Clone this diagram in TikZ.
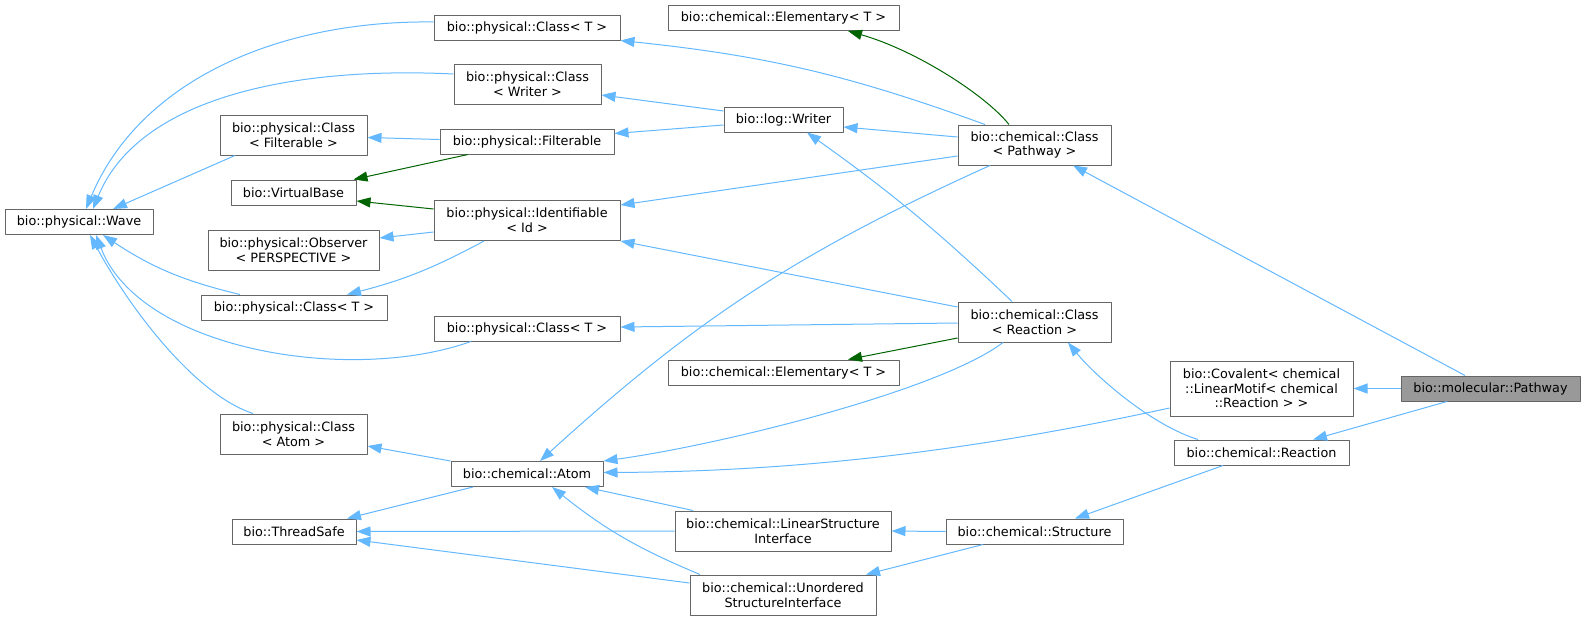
\documentclass[tikz,border=0pt]{standalone}
\usepackage{fontspec}
\setmainfont{DejaVu Sans}
\usetikzlibrary{arrows.meta, calc}

\definecolor{inhblue}{HTML}{63B8FF}
\definecolor{inhgreen}{HTML}{006400}
\definecolor{boxgray}{HTML}{666666}
\definecolor{mainfill}{HTML}{999999}

\begin{document}
\begin{tikzpicture}[x=0.75pt, y=-0.75pt, line join=round,
  cls/.style={draw=boxgray, line width=0.75pt, fill=white, inner sep=0pt,
    align=center, font=\fontsize{9.6}{11}\selectfont, minimum height=25*0.75pt},
  bw/.style={minimum width=#1*0.75pt},
  bh/.style={minimum height=#1*0.75pt},
  pub/.style={draw=inhblue, line width=0.75pt, -{Triangle[length=10.5pt,width=7.5pt]}},
  prot/.style={draw=inhgreen, line width=0.75pt, -{Triangle[length=10.5pt,width=7.5pt]}}]

\useasboundingbox (0,0) rectangle (1585,621);

% colonna sinistra
\node[cls, bw=148] (wave) at (79,222) {bio::physical::Wave};
\node[cls, bw=147, bh=40] (pcFilt) at (293.5,135) {bio::physical::Class\\< Filterable >};
\node[cls, bw=125] (vbase) at (293.5,192.5) {bio::VirtualBase};
\node[cls, bw=171, bh=40] (observer) at (293.5,250) {bio::physical::Observer\\< PERSPECTIVE >};
\node[cls, bw=186] (pcT2) at (294,307.5) {bio::physical::Class< T >};
\node[cls, bw=147, bh=40] (pcAtom) at (293.5,434) {bio::physical::Class\\< Atom >};
\node[cls, bw=124] (tsafe) at (294,531.5) {bio::ThreadSafe};

% colonna centrale
\node[cls, bw=186] (pcT1) at (527,27.5) {bio::physical::Class< T >};
\node[cls, bw=147, bh=40] (pcWriter) at (527.5,84.5) {bio::physical::Class\\< Writer >};
\node[cls, bw=174] (filt) at (527,141.5) {bio::physical::Filterable};
\node[cls, bw=186, bh=40] (ident) at (527,220.5) {bio::physical::Identifiable\\< Id >};
\node[cls, bw=186] (pcT3) at (527,328.5) {bio::physical::Class< T >};
\node[cls, bw=152] (atom) at (527,474) {bio::chemical::Atom};

\node[cls, bw=231] (elemA) at (783.5,18) {bio::chemical::Elementary< T >};
\node[cls, bw=119] (writer) at (783.5,119.5) {bio::log::Writer};
\node[cls, bw=231] (elemB) at (783.5,372.5) {bio::chemical::Elementary< T >};
\node[cls, bw=216, bh=40] (linStruct) at (783,531) {bio::chemical::LinearStructure\\Interface};
\node[cls, bw=186, bh=40] (unordStruct) at (783,595) {bio::chemical::Unordered\\StructureInterface};

% colonna destra
\node[cls, bw=153, bh=40] (chemPathway) at (1034.5,145) {bio::chemical::Class\\< Pathway >};
\node[cls, bw=153, bh=40] (chemReaction) at (1034.5,322) {bio::chemical::Class\\< Reaction >};
\node[cls, bw=177] (structure) at (1034.5,531.5) {bio::chemical::Structure};
\node[cls, bw=183, bh=55] (covalent) at (1261.5,388.5) {bio::Covalent< chemical\\::LinearMotif< chemical\\::Reaction > >};
\node[cls, bw=175] (reaction) at (1261.5,452.5) {bio::chemical::Reaction};
\node[cls, bw=179, fill=mainfill] (pathway) at (1490.5,388.5) {bio::molecular::Pathway};

% --- ereditarieta da Pathway ---
\draw[pub] ($(pathway.north)+(-25.5,0)$) -- ($(chemPathway.south)+(38.5,0)$);
\draw[pub] (pathway.west) -- (covalent.east);
\draw[pub] ($(pathway.south)+(-43.5,0)$) -- ($(reaction.north)+(51.5,0)$);

% Class< Pathway >
\draw[prot] ($(chemPathway.north)+(-25.5,0)$) .. controls +(-24,-30) and +(67,19) .. ($(elemA.south)+(64.5,0)$);
\draw[pub] ($(chemPathway.north)+(-49.5,0)$) to[bend right=7] (pcT1.south east);
\draw[pub] ($(chemPathway.west)+(0,-8)$) -- ($(writer.east)+(0,7.5)$);
\draw[pub] ($(chemPathway.west)+(0,11)$) -- ($(ident.east)+(0,-15.5)$);
\draw[pub] ($(chemPathway.south)+(-44.5,0)$) to[bend right=9] ($(atom.north)+(13,0)$);

% Writer, Filterable, Identifiable
\draw[pub] ($(writer.west)+(0,-8.5)$) -- ($(pcWriter.east)+(0,10.5)$);
\draw[pub] ($(writer.west)+(0,5.5)$) -- ($(filt.east)+(0,-8)$);
\draw[pub] ($(filt.west)+(0,-2)$) -- ($(pcFilt.east)+(0,2.5)$);
\draw[prot] ($(filt.south)+(-59,0)$) -- ($(vbase.north)+(60,0)$);
\draw[prot] ($(ident.west)+(0,-11.5)$) -- ($(vbase.east)+(0,8.5)$);
\draw[pub] ($(ident.west)+(0,11.5)$) -- ($(observer.east)+(0,-12)$);
\draw[pub] ($(ident.south)+(-43,0)$) to[bend left=7] ($(pcT2.north)+(53,0)$);

% verso Wave
\draw[pub] ($(pcT1.west)+(0,-5.5)$) .. controls +(-154,-2) and +(54,-129) .. ($(wave.north)+(7,0)$);
\draw[pub] ($(pcWriter.west)+(0,-10.5)$) .. controls +(-164,-8) and +(45,-110) .. ($(wave.north)+(14,0)$);
\draw[pub] ($(pcFilt.south)+(-58.5,0)$) -- ($(wave.north)+(34,0)$);
\draw[pub] ($(pcT2.north)+(-54,0)$) to[bend left=10] ($(wave.south)+(24,0)$);
\draw[pub] ($(pcT3.south)+(-56,0)$) .. controls +(-121,43) and +(44,115) .. ($(wave.south)+(17,0)$);
\draw[pub] ($(pcAtom.north)+(-40.5,0)$) .. controls +(-58,-19) and +(40,74) .. ($(wave.south)+(11,0)$);

% Class< Reaction >
\draw[pub] ($(chemReaction.north)+(-22.5,0)$) to[bend right=4] ($(writer.south)+(23.5,0)$);
\draw[pub] ($(chemReaction.west)+(0,-15)$) -- (ident.south east);
\draw[pub] ($(chemReaction.west)+(0,1)$) -- ($(pcT3.east)+(0,-1.5)$);
\draw[prot] ($(chemReaction.west)+(0,16)$) -- ($(elemB.north)+(64.5,0)$);
\draw[pub] ($(chemReaction.south)+(-31.5,0)$) .. controls +(-63,48) and +(117,-16) .. (atom.north east);

% Covalent e Reaction
\draw[pub] ($(covalent.west)+(0,19.5)$) .. controls +(-170,37) and +(217,-1) .. ($(atom.east)+(0,-1.5)$);
\draw[pub] ($(reaction.north)+(-63.5,0)$) .. controls +(-48,-15) and +(27,33) .. ($(chemReaction.south)+(33.5,0)$);
\draw[pub] ($(reaction.south)+(-38.5,0)$) -- ($(structure.north)+(40.5,0)$);

% Atom e strutture
\draw[pub] (atom.north west) -- ($(pcAtom.east)+(0,12)$);
\draw[pub] ($(atom.south)+(-54,0)$) -- ($(tsafe.north)+(53,0)$);
\draw[pub] ($(linStruct.north)+(-90,0)$) -- ($(atom.south)+(58,0)$);
\draw[pub] (linStruct.west) -- (tsafe.east);
\draw[pub] ($(unordStruct.north)+(-83,0)$) to[bend left=8] ($(atom.south)+(25,0)$);
\draw[pub] ($(unordStruct.west)+(0,-12)$) -- ($(tsafe.east)+(0,8.5)$);
\draw[pub] (structure.west) -- (linStruct.east);
\draw[pub] ($(structure.south)+(-51.5,0)$) -- ($(unordStruct.north)+(83,0)$);
\end{tikzpicture}
\end{document}
